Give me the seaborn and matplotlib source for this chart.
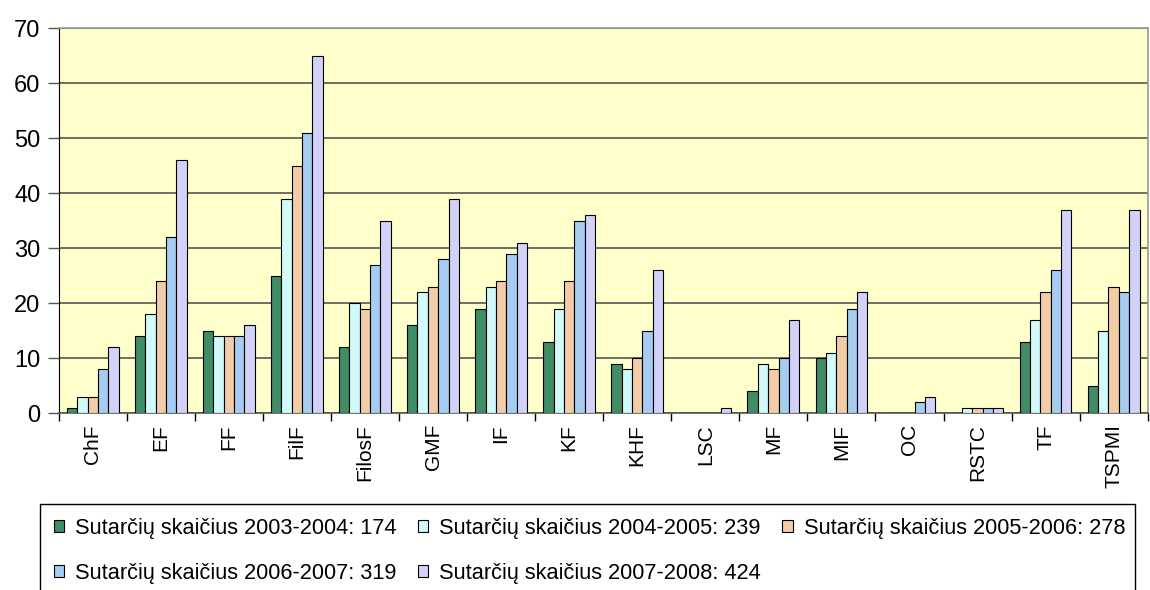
import pandas as pd
import seaborn as sns
import matplotlib.pyplot as plt
from matplotlib.patches import Rectangle

# Categories (faculties) and yearly contract counts
categories = ['ChF', 'EF', 'FF', 'FilF', 'FilosF', 'GMF', 'IF', 'KF',
              'KHF', 'LSC', 'MF', 'MIF', 'OC', 'RSTC', 'TF', 'TSPMI']
s_2003 = [1, 14, 15, 25, 12, 16, 19, 13, 9, 0, 4, 10, 0, 0, 13, 5]
s_2004 = [3, 18, 14, 39, 20, 22, 23, 19, 8, 0, 9, 11, 0, 1, 17, 15]
s_2005 = [3, 24, 14, 45, 19, 23, 24, 24, 10, 0, 8, 14, 0, 1, 22, 23]
s_2006 = [8, 32, 14, 51, 27, 28, 29, 35, 15, 0, 10, 19, 2, 1, 26, 22]
s_2007 = [12, 46, 16, 65, 35, 39, 31, 36, 26, 1, 17, 22, 3, 1, 37, 37]
series_names = ['Sutarčių skaičius 2003-2004: 174',
                'Sutarčių skaičius 2004-2005: 239',
                'Sutarčių skaičius 2005-2006: 278',
                'Sutarčių skaičius 2006-2007: 319',
                'Sutarčių skaičius 2007-2008: 424']
colors = ['#339966', '#CCFFFF', '#FFCC99', '#99CCFF', '#CCCCFF']

rows = []
for name, vals in zip(series_names, [s_2003, s_2004, s_2005, s_2006, s_2007]):
    for c, v in zip(categories, vals):
        rows.append({'cat': c, 'val': v, 'series': name})
df = pd.DataFrame(rows)

plt.rcParams['font.family'] = ['Liberation Sans', 'DejaVu Sans']

fig = plt.figure(figsize=(11.5, 5.9), dpi=100)
ax = fig.add_axes([0.051, 0.30, 0.947, 0.652])
ax.set_facecolor('#FFFFCC')

sns.barplot(data=df, x='cat', y='val', hue='series', palette=colors,
            edgecolor='black', linewidth=0.8, width=0.76, ax=ax, zorder=3)

ax.set_ylim(0, 70)
ax.set_xlim(-0.5, len(categories) - 0.5)
ax.set_yticks(range(0, 71, 10))
ax.grid(axis='y', color='#555555', linewidth=1.2, zorder=0)
ax.set_axisbelow(True)
ax.set_xlabel('')
ax.set_ylabel('')

# ticks between categories
ax.set_xticks([i - 0.5 for i in range(len(categories) + 1)], minor=False)
ax.set_xticklabels([])
ax.set_xticks(range(len(categories)), minor=True)
ax.set_xticklabels(categories, minor=True, rotation=90, fontsize=15)
ax.tick_params(axis='x', which='minor', length=0, pad=8)
ax.tick_params(axis='x', which='major', length=6, width=1, color='black')
ax.tick_params(axis='y', labelsize=17, length=8, width=1, color='#555555', pad=5)

for side in ['top', 'right']:
    ax.spines[side].set_color('#999999')
    ax.spines[side].set_linewidth(1.2)
ax.spines['left'].set_color('black')
ax.spines['bottom'].set_color('#555555')
ax.spines['bottom'].set_linewidth(1.2)

# legend: row-wise order, in a box that runs off the bottom
handles, labels = ax.get_legend_handles_labels()
ax.get_legend().remove()
order = [0, 3, 1, 4, 2]
fig.legend([handles[i] for i in order], [labels[i] for i in order],
           loc='upper left', bbox_to_anchor=(0.039, 0.137), ncol=3,
           frameon=False, fontsize=15.7, handlelength=0.5, handleheight=0.5,
           handletextpad=0.5, columnspacing=0.95, labelspacing=1.1,
           borderaxespad=0)
fig.patches.append(Rectangle((40 / 1150, -0.05), (1135 - 40) / 1150, 0.05 + (590 - 504) / 590,
                             transform=fig.transFigure, fill=False,
                             edgecolor='black', linewidth=1))

fig.savefig('out.png', dpi=100)
